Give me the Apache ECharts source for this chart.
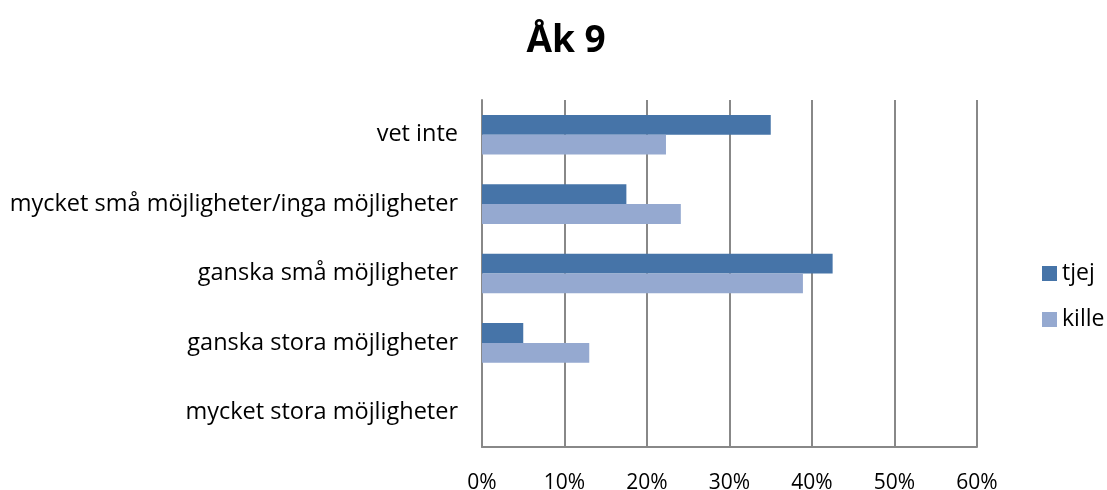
<!DOCTYPE html>
<html><head><meta charset="utf-8">
<script src="https://cdn.jsdelivr.net/npm/echarts@6/dist/echarts.min.js"></script>
<style>html,body{margin:0;padding:0;background:#fff}#c{width:1107px;height:490px}</style>
</head><body><div id="c"></div>
<script>
const categories = ["vet inte", "mycket små möjligheter/inga möjligheter", "ganska små möjligheter", "ganska stora möjligheter", "mycket stora möjligheter"];
const tjej = [35.0, 17.5, 42.5, 5.0, 0];
const kille = [22.3, 24.1, 38.9, 13.0, 0];
const xTicks = [0, 10, 20, 30, 40, 50, 60];
const FONT = "Open Sans";
const chart = echarts.init(document.getElementById('c'));
chart.setOption({
  animation: false,
  textStyle: { fontFamily: FONT },
  title: { text: "Åk 9", left: 561, top: 18, textAlign: 'center',
    textStyle: { fontFamily: FONT, fontSize: 37, fontWeight: 'bold', color: '#000' } },
  legend: { orient: 'vertical', left: 1037, top: 257, itemGap: 23, itemWidth: 15, itemHeight: 15,
    icon: 'rect', textStyle: { fontFamily: FONT, fontSize: 23, color: '#000' },
    data: ['tjej', 'kille'] },
  grid: { left: 482, right: 130, top: 100, bottom: 43, containLabel: false, outerBoundsMode: 'none' },
  xAxis: { type: 'value', min: xTicks[0], max: xTicks[xTicks.length - 1], interval: 10,
    axisLine: { show: true, lineStyle: { color: '#888', width: 2 } },
    axisTick: { show: false },
    splitLine: { show: true, lineStyle: { color: '#888', width: 2 } },
    axisLabel: { formatter: v => v + '%', fontSize: 21, color: '#000', margin: 26 } },
  yAxis: { type: 'category', inverse: true, data: categories,
    axisLine: { show: true, lineStyle: { color: '#888', width: 2 } },
    axisTick: { show: false },
    axisLabel: { fontSize: 23.5, color: '#000', margin: 24 } },
  series: [
    { name: 'tjej', type: 'bar', data: tjej, barGap: '0%', barCategoryGap: '43%',
      itemStyle: { color: '#4674A8' } },
    { name: 'kille', type: 'bar', data: kille, barGap: '0%', barCategoryGap: '43%',
      itemStyle: { color: '#95A9D0' } }
  ]
});
</script></body></html>
